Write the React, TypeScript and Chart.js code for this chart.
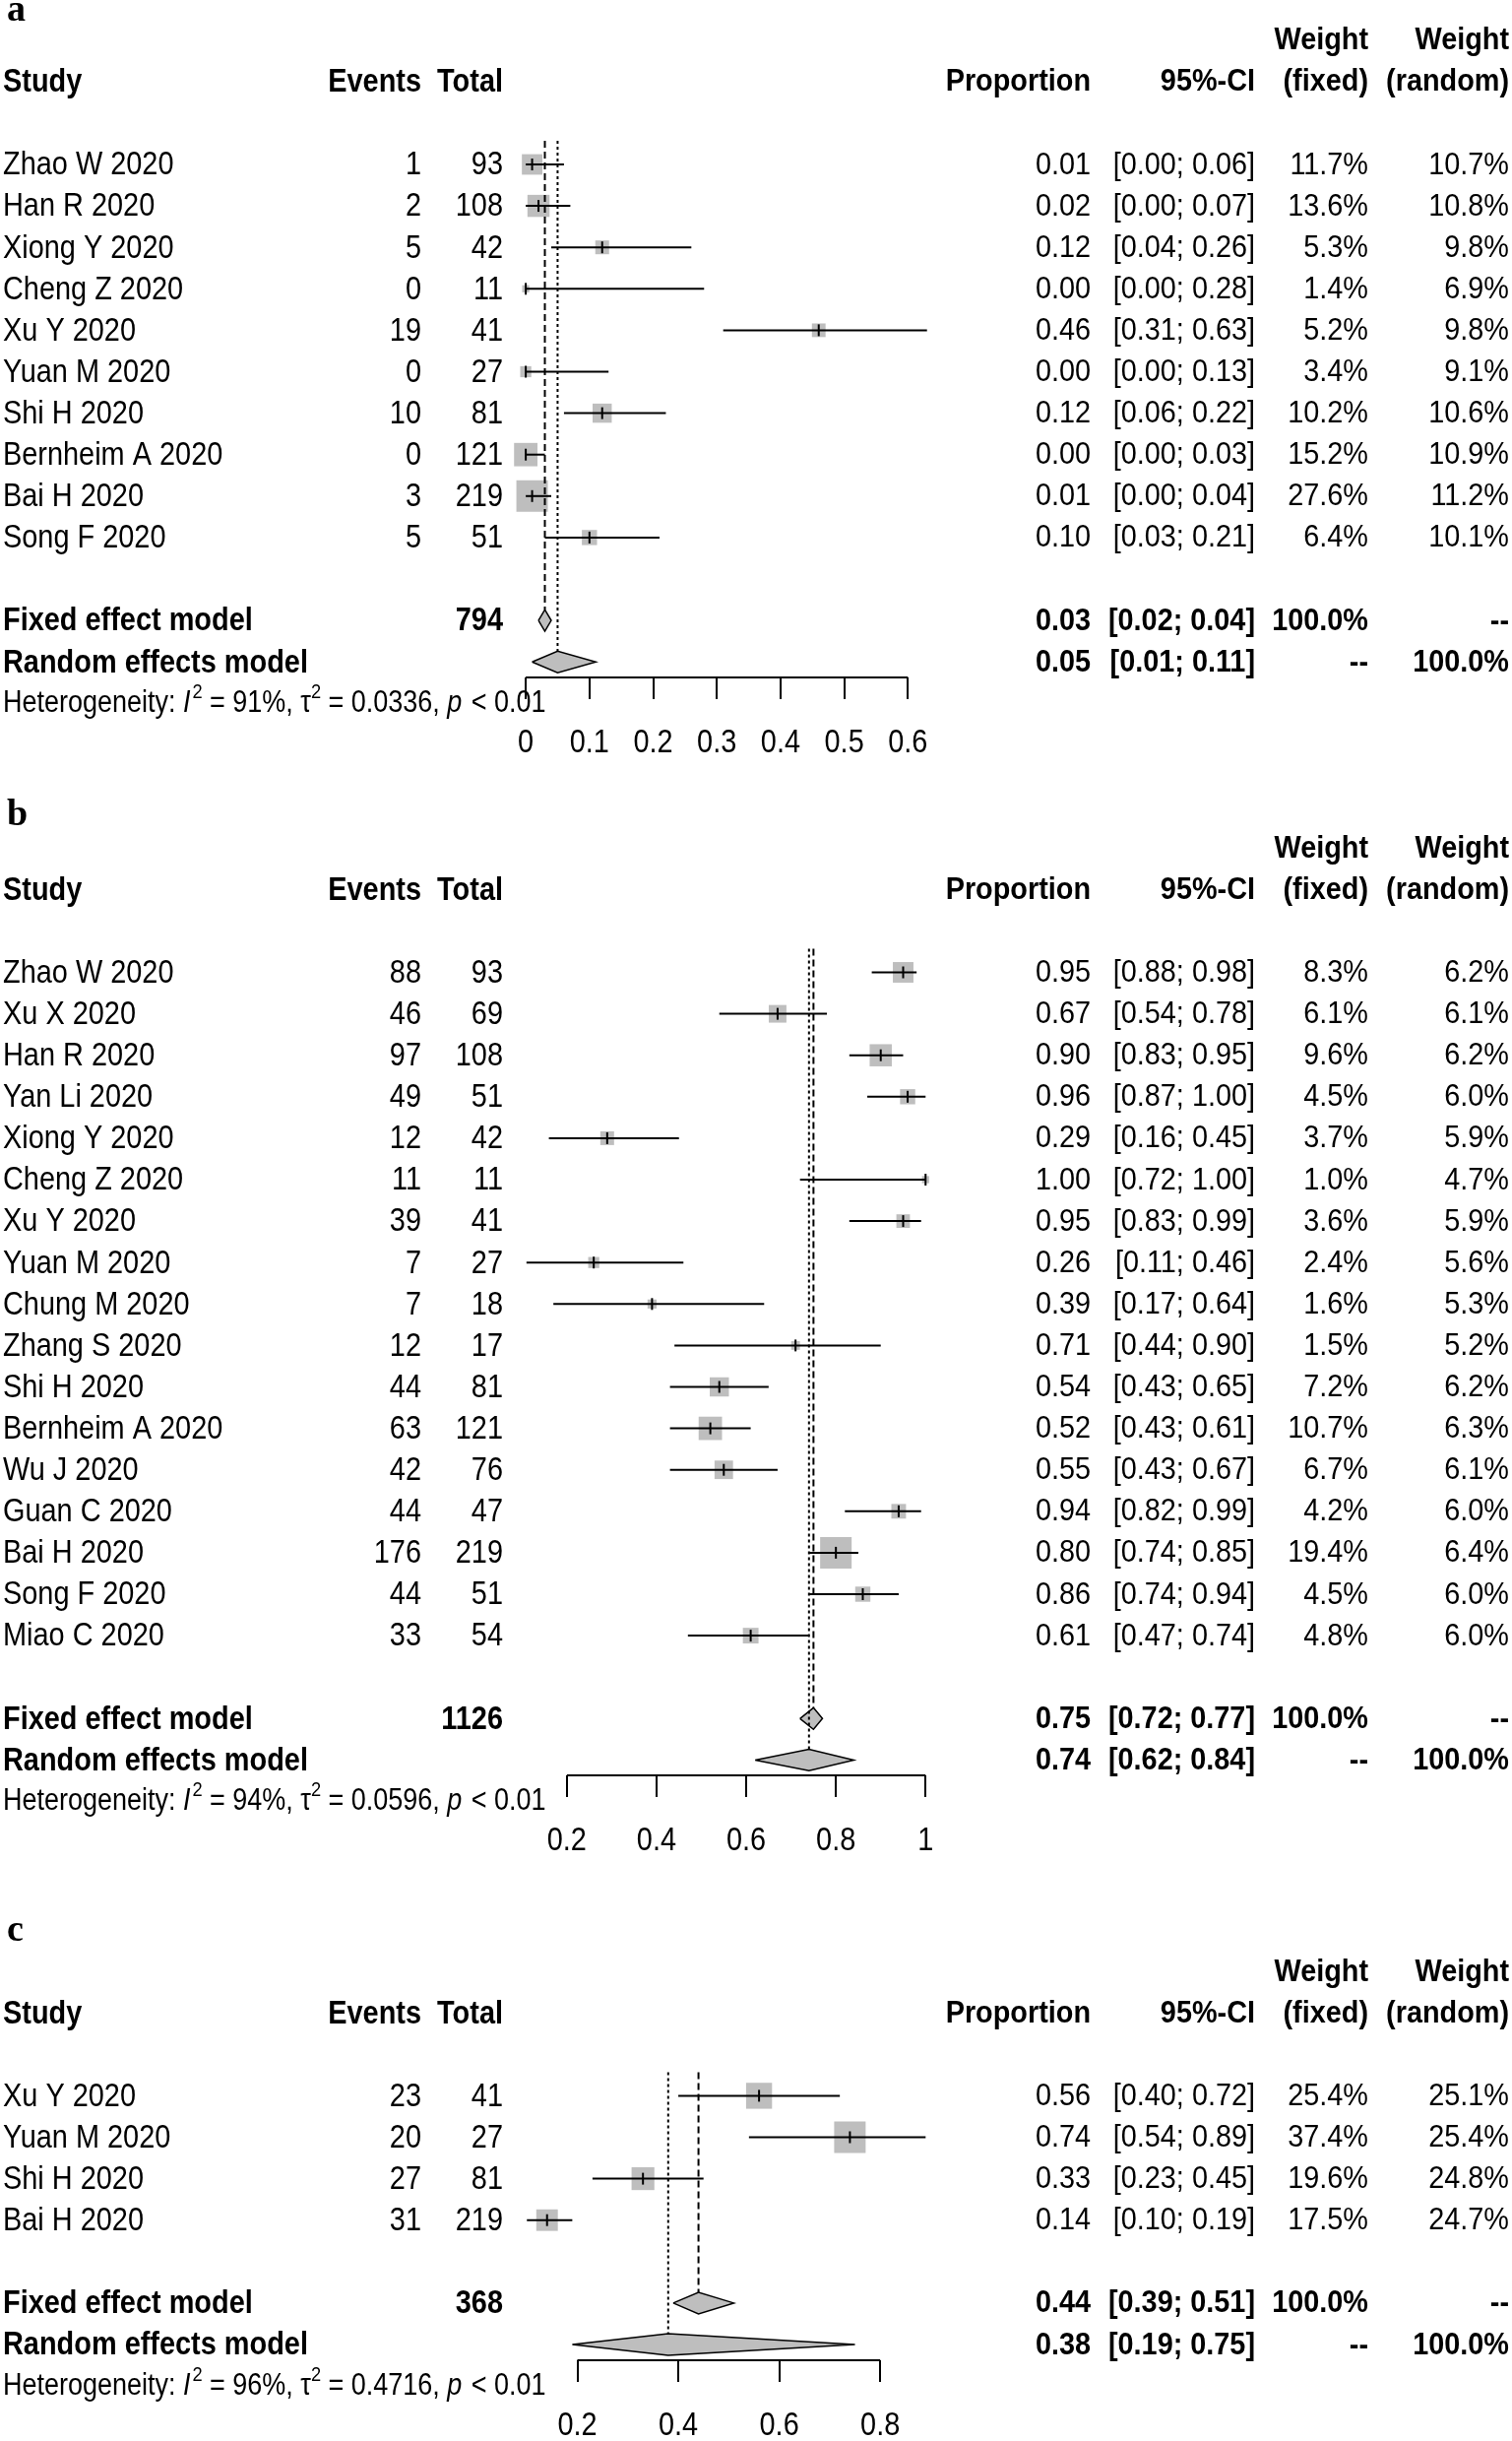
import React, { useEffect, useRef } from 'react';
import { Chart, registerables } from 'chart.js';

Chart.register(...registerables);

// ---------------- Panel a ----------------
const studiesA = ['Zhao W 2020', 'Han R 2020', 'Xiong Y 2020', 'Cheng Z 2020', 'Xu Y 2020', 'Yuan M 2020', 'Shi H 2020', 'Bernheim A 2020', 'Bai H 2020', 'Song F 2020'];
const eventsA = [1, 2, 5, 0, 19, 0, 10, 0, 3, 5];
const totalsA = [93, 108, 42, 11, 41, 27, 81, 121, 219, 51];
const propA = [0.01, 0.02, 0.12, 0.0, 0.46, 0.0, 0.12, 0.0, 0.01, 0.1];
const lowerA = [0.0, 0.0, 0.04, 0.0, 0.31, 0.0, 0.06, 0.0, 0.0, 0.03];
const upperA = [0.06, 0.07, 0.26, 0.28, 0.63, 0.13, 0.22, 0.03, 0.04, 0.21];
const weightFixedA = [11.7, 13.6, 5.3, 1.4, 5.2, 3.4, 10.2, 15.2, 27.6, 6.4];
const weightRandomA = [10.7, 10.8, 9.8, 6.9, 9.8, 9.1, 10.6, 10.9, 11.2, 10.1];
const totalFixedA = 794;
const fixedA = [0.03, 0.02, 0.04];
const randomA = [0.05, 0.01, 0.11];
const hetA = ['91%', '0.0336', '< 0.01'];
const ticksA = [0, 0.1, 0.2, 0.3, 0.4, 0.5, 0.6];
const tickLabelsA = ['0', '0.1', '0.2', '0.3', '0.4', '0.5', '0.6'];

// ---------------- Panel b ----------------
const studiesB = ['Zhao W 2020', 'Xu X 2020', 'Han R 2020', 'Yan Li 2020', 'Xiong Y 2020', 'Cheng Z 2020', 'Xu Y 2020', 'Yuan M 2020', 'Chung M 2020', 'Zhang S 2020', 'Shi H 2020', 'Bernheim A 2020', 'Wu J 2020', 'Guan C 2020', 'Bai H 2020', 'Song F 2020', 'Miao C 2020'];
const eventsB = [88, 46, 97, 49, 12, 11, 39, 7, 7, 12, 44, 63, 42, 44, 176, 44, 33];
const totalsB = [93, 69, 108, 51, 42, 11, 41, 27, 18, 17, 81, 121, 76, 47, 219, 51, 54];
const propB = [0.95, 0.67, 0.9, 0.96, 0.29, 1.0, 0.95, 0.26, 0.39, 0.71, 0.54, 0.52, 0.55, 0.94, 0.8, 0.86, 0.61];
const lowerB = [0.88, 0.54, 0.83, 0.87, 0.16, 0.72, 0.83, 0.11, 0.17, 0.44, 0.43, 0.43, 0.43, 0.82, 0.74, 0.74, 0.47];
const upperB = [0.98, 0.78, 0.95, 1.0, 0.45, 1.0, 0.99, 0.46, 0.64, 0.9, 0.65, 0.61, 0.67, 0.99, 0.85, 0.94, 0.74];
const weightFixedB = [8.3, 6.1, 9.6, 4.5, 3.7, 1.0, 3.6, 2.4, 1.6, 1.5, 7.2, 10.7, 6.7, 4.2, 19.4, 4.5, 4.8];
const weightRandomB = [6.2, 6.1, 6.2, 6.0, 5.9, 4.7, 5.9, 5.6, 5.3, 5.2, 6.2, 6.3, 6.1, 6.0, 6.4, 6.0, 6.0];
const totalFixedB = 1126;
const fixedB = [0.75, 0.72, 0.77];
const randomB = [0.74, 0.62, 0.84];
const hetB = ['94%', '0.0596', '< 0.01'];
const ticksB = [0.2, 0.4, 0.6, 0.8, 1];
const tickLabelsB = ['0.2', '0.4', '0.6', '0.8', '1'];

// ---------------- Panel c ----------------
const studiesC = ['Xu Y 2020', 'Yuan M 2020', 'Shi H 2020', 'Bai H 2020'];
const eventsC = [23, 20, 27, 31];
const totalsC = [41, 27, 81, 219];
const propC = [0.56, 0.74, 0.33, 0.14];
const lowerC = [0.4, 0.54, 0.23, 0.1];
const upperC = [0.72, 0.89, 0.45, 0.19];
const weightFixedC = [25.4, 37.4, 19.6, 17.5];
const weightRandomC = [25.1, 25.4, 24.8, 24.7];
const totalFixedC = 368;
const fixedC = [0.44, 0.39, 0.51];
const randomC = [0.38, 0.19, 0.75];
const hetC = ['96%', '0.4716', '< 0.01'];
const ticksC = [0.2, 0.4, 0.6, 0.8];
const tickLabelsC = ['0.2', '0.4', '0.6', '0.8'];

// ---------------- Layout / style ----------------
const CANVAS_W = 1536;
const ROW = 42.1;
const BOX = 32;
const DH = 0.26;
const SANS = '"Liberation Sans", Arial, Helvetica, sans-serif';
const SERIF = '"Liberation Serif", "Times New Roman", serif';
const GRAY = '#bebebe';
const COLS = { study: 3, events: 428, total: 511, prop: 1108, ci: 1275, wf: 1390, wr: 1533 };
const LEFT_SIZE = 34;
const LEFT_SX = 0.85;
const RIGHT_SIZE = 31;
const RIGHT_SX = 0.93;

const layoutA = { top: 0, height: 800, row0: 167, axisY: 688, letterBase: 21 };
const layoutB = { top: 800, height: 1100, row0: 987.5, axisY: 1803, letterBase: 838 };
const layoutC = { top: 1900, height: 579, row0: 2128.4, axisY: 2397, letterBase: 1971 };
const axisPxA = [527, 927];
const axisPxB = [570, 945.5];
const axisPxC = [581, 898];

const panels: any[] = [
  { letter: 'a', studies: studiesA, events: eventsA, totals: totalsA, prop: propA, lower: lowerA, upper: upperA, wFixed: weightFixedA, wRandom: weightRandomA, totalFixed: totalFixedA, fixed: fixedA, random: randomA, het: hetA, ticks: ticksA, tickLabels: tickLabelsA, layout: layoutA, axisPx: axisPxA },
  { letter: 'b', studies: studiesB, events: eventsB, totals: totalsB, prop: propB, lower: lowerB, upper: upperB, wFixed: weightFixedB, wRandom: weightRandomB, totalFixed: totalFixedB, fixed: fixedB, random: randomB, het: hetB, ticks: ticksB, tickLabels: tickLabelsB, layout: layoutB, axisPx: axisPxB },
  { letter: 'c', studies: studiesC, events: eventsC, totals: totalsC, prop: propC, lower: lowerC, upper: upperC, wFixed: weightFixedC, wRandom: weightRandomC, totalFixed: totalFixedC, fixed: fixedC, random: randomC, het: hetC, ticks: ticksC, tickLabels: tickLabelsC, layout: layoutC, axisPx: axisPxC },
];

function drawText(ctx: any, s: string, x: number, y: number, align: string, font: string, sx: number, baseline = 'middle') {
  ctx.save();
  ctx.font = font;
  ctx.fillStyle = '#000';
  ctx.textAlign = align;
  ctx.textBaseline = baseline;
  ctx.translate(x, y);
  ctx.scale(sx, 1);
  ctx.fillText(s, 0, 0);
  ctx.restore();
}

const fmt2 = (v: number) => v.toFixed(2);
const ci = (lo: number, hi: number) => `[${fmt2(lo)}; ${fmt2(hi)}]`;
const pct = (v: number) => `${v.toFixed(1)}%`;

function textPlugin(p: any) {
  return {
    id: 'forestText_' + p.letter,
    afterDraw(chart: any) {
      const ctx = chart.ctx;
      const ys = chart.scales.y;
      const xs = chart.scales.x;
      const Y = (r: number) => ys.getPixelForValue(r) + 1;
      const n = p.studies.length;
      const L = p.layout;
      const LN = `${LEFT_SIZE}px ${SANS}`;
      const LB = `bold ${LEFT_SIZE}px ${SANS}`;
      const RN = `${RIGHT_SIZE}px ${SANS}`;
      const RB = `bold ${RIGHT_SIZE}px ${SANS}`;

      // panel letter
      drawText(ctx, p.letter, 7, L.letterBase - L.top, 'left', `bold 38px ${SERIF}`, 1, 'alphabetic');

      // headers
      drawText(ctx, 'Weight', COLS.wf, Y(-3), 'right', RB, RIGHT_SX);
      drawText(ctx, 'Weight', COLS.wr, Y(-3), 'right', RB, RIGHT_SX);
      drawText(ctx, 'Study', COLS.study, Y(-2), 'left', LB, LEFT_SX);
      drawText(ctx, 'Events', COLS.events, Y(-2), 'right', LB, LEFT_SX);
      drawText(ctx, 'Total', COLS.total, Y(-2), 'right', LB, LEFT_SX);
      drawText(ctx, 'Proportion', COLS.prop, Y(-2), 'right', RB, RIGHT_SX);
      drawText(ctx, '95%-CI', COLS.ci, Y(-2), 'right', RB, RIGHT_SX);
      drawText(ctx, '(fixed)', COLS.wf, Y(-2), 'right', RB, RIGHT_SX);
      drawText(ctx, '(random)', COLS.wr, Y(-2), 'right', RB, RIGHT_SX);

      // study rows
      for (let i = 0; i < n; i++) {
        const y = Y(i);
        drawText(ctx, p.studies[i], COLS.study, y, 'left', LN, LEFT_SX);
        drawText(ctx, String(p.events[i]), COLS.events, y, 'right', LN, LEFT_SX);
        drawText(ctx, String(p.totals[i]), COLS.total, y, 'right', LN, LEFT_SX);
        drawText(ctx, fmt2(p.prop[i]), COLS.prop, y, 'right', RN, RIGHT_SX);
        drawText(ctx, ci(p.lower[i], p.upper[i]), COLS.ci, y, 'right', RN, RIGHT_SX);
        drawText(ctx, pct(p.wFixed[i]), COLS.wf, y, 'right', RN, RIGHT_SX);
        drawText(ctx, pct(p.wRandom[i]), COLS.wr, y, 'right', RN, RIGHT_SX);
      }

      // model rows
      const yf = Y(n + 1);
      drawText(ctx, 'Fixed effect model', COLS.study, yf, 'left', LB, LEFT_SX);
      drawText(ctx, String(p.totalFixed), COLS.total, yf, 'right', LB, LEFT_SX);
      drawText(ctx, fmt2(p.fixed[0]), COLS.prop, yf, 'right', RB, RIGHT_SX);
      drawText(ctx, ci(p.fixed[1], p.fixed[2]), COLS.ci, yf, 'right', RB, RIGHT_SX);
      drawText(ctx, '100.0%', COLS.wf, yf, 'right', RB, RIGHT_SX);
      drawText(ctx, '--', COLS.wr, yf, 'right', RB, RIGHT_SX);
      const yr = Y(n + 2);
      drawText(ctx, 'Random effects model', COLS.study, yr, 'left', LB, LEFT_SX);
      drawText(ctx, fmt2(p.random[0]), COLS.prop, yr, 'right', RB, RIGHT_SX);
      drawText(ctx, ci(p.random[1], p.random[2]), COLS.ci, yr, 'right', RB, RIGHT_SX);
      drawText(ctx, '--', COLS.wf, yr, 'right', RB, RIGHT_SX);
      drawText(ctx, '100.0%', COLS.wr, yr, 'right', RB, RIGHT_SX);

      // heterogeneity
      const HS = 31;
      const HSX = 0.87;
      const segs: any[] = [
        ['Heterogeneity: ', 'n'], ['I', 'i'], ['2', 's'], [` = ${p.het[0]}, `, 'n'], ['\u03c4', 'n'], ['2', 's'],
        [` = ${p.het[1]}, `, 'n'], ['p', 'i'], [` ${p.het[2]}`, 'n'],
      ];
      let cx = COLS.study;
      const axisY = L.axisY - L.top;
      const hy = axisY + 26;
      for (const [s, k] of segs) {
        const font = k === 'i' ? `italic ${HS}px ${SANS}` : k === 's' ? `${Math.round(HS * 0.68)}px ${SANS}` : `${HS}px ${SANS}`;
        const dy = k === 's' ? -11 : 0;
        drawText(ctx, s, cx, hy + dy, 'left', font, HSX);
        ctx.save();
        ctx.font = font;
        cx += ctx.measureText(s).width * HSX + (k === 'i' ? 2 : 0);
        ctx.restore();
      }

      // tick labels
      p.ticks.forEach((v: number, i: number) => {
        drawText(ctx, p.tickLabels[i], xs.getPixelForValue(v), axisY + 67, 'center', `${LEFT_SIZE}px ${SANS}`, 0.85);
      });
    },
  };
}

function buildConfig(p: any) {
  const n = p.studies.length;
  const L = p.layout;
  const fixedRow = n + 1;
  const randomRow = n + 2;
  const axisRow = (L.axisY - L.row0) / ROW;
  const yMin = -0.6;
  const absY = (r: number) => L.row0 + r * ROW;
  const t0 = p.ticks[0];
  const t1 = p.ticks[p.ticks.length - 1];
  const k = (p.axisPx[1] - p.axisPx[0]) / (t1 - t0);
  const xMin = t0 - p.axisPx[0] / k;
  const xMax = t0 + (CANVAS_W - p.axisPx[0]) / k;
  const maxW = Math.max(...p.wFixed);
  const pts = p.prop.map((v: number, i: number) => ({ x: v, y: i }));

  const datasets: any[] = [];
  // squares (area proportional to fixed-effect weight)
  datasets.push({
    data: pts,
    showLine: false,
    pointStyle: 'rect',
    pointRadius: p.wFixed.map((w: number) => (BOX * Math.sqrt(w / maxW)) / Math.SQRT2),
    pointBackgroundColor: GRAY,
    pointBorderWidth: 0,
    clip: false,
    order: 6,
  });
  // confidence intervals
  p.lower.forEach((lo: number, i: number) => {
    datasets.push({
      data: [{ x: lo, y: i }, { x: p.upper[i], y: i }],
      showLine: true,
      borderColor: '#000',
      borderWidth: 2,
      pointRadius: 0,
      clip: false,
      order: 2,
    });
  });
  // point estimate ticks
  datasets.push({
    data: pts,
    showLine: false,
    pointStyle: 'line',
    pointRotation: 90,
    pointRadius: 6,
    pointBorderWidth: 2,
    pointBorderColor: '#000',
    pointBackgroundColor: '#000',
    clip: false,
    order: 1,
  });
  // diamonds
  const diamond = (m: number[], r: number) => [
    { x: m[1], y: r }, { x: m[0], y: r - DH }, { x: m[2], y: r }, { x: m[0], y: r + DH }, { x: m[1], y: r },
  ];
  [[p.fixed, fixedRow], [p.random, randomRow]].forEach(([m, r]: any) => {
    datasets.push({
      data: diamond(m, r),
      showLine: true,
      fill: 'shape',
      backgroundColor: GRAY,
      borderColor: '#000',
      borderWidth: 1.5,
      pointRadius: 0,
      tension: 0,
      clip: false,
      order: 5,
    });
  });
  // reference lines (fixed dashed, random dotted)
  datasets.push({
    data: [{ x: p.fixed[0], y: -0.57 }, { x: p.fixed[0], y: fixedRow - DH }],
    showLine: true,
    borderColor: '#000',
    borderWidth: 2,
    borderDash: [7, 4],
    pointRadius: 0,
    clip: false,
    order: 3,
  });
  datasets.push({
    data: [{ x: p.random[0], y: -0.57 }, { x: p.random[0], y: randomRow - DH }],
    showLine: true,
    borderColor: '#000',
    borderWidth: 2,
    borderDash: [3, 3],
    pointRadius: 0,
    clip: false,
    order: 3,
  });
  // axis baseline between first and last tick
  datasets.push({
    data: [{ x: t0, y: axisRow }, { x: t1, y: axisRow }],
    showLine: true,
    borderColor: '#000',
    borderWidth: 2,
    pointRadius: 0,
    clip: false,
    order: 4,
  });

  return {
    type: 'scatter',
    data: { datasets },
    options: {
      responsive: false,
      maintainAspectRatio: false,
      animation: false,
      events: [],
      layout: { padding: { left: 0, right: 0, top: absY(yMin) - L.top, bottom: 0 } },
      plugins: { legend: { display: false }, tooltip: { enabled: false } },
      scales: {
        x: {
          type: 'linear',
          position: 'bottom',
          bounds: 'data',
          min: xMin,
          max: xMax,
          afterBuildTicks: (s: any) => {
            s.ticks = p.ticks.map((v: number) => ({ value: v }));
          },
          afterFit: (s: any) => {
            s.height = L.height - (L.axisY - L.top);
          },
          grid: {
            display: true,
            drawOnChartArea: false,
            drawTicks: true,
            tickLength: 22,
            color: '#000',
            lineWidth: 2,
            tickColor: '#000',
            tickWidth: 2,
          },
          border: { display: false },
          ticks: { display: false },
        },
        y: {
          type: 'linear',
          display: false,
          bounds: 'data',
          reverse: true,
          min: yMin,
          max: axisRow,
        },
      },
    },
    plugins: [textPlugin(p)],
  };
}

function ForestPanel({ p }: { p: any }) {
  const ref = useRef<HTMLCanvasElement>(null);
  useEffect(() => {
    const chart = new Chart(ref.current as any, buildConfig(p) as any);
    return () => chart.destroy();
  }, [p]);
  return (
    <canvas
      ref={ref}
      width={CANVAS_W}
      height={p.layout.height}
      style={{ position: 'absolute', left: 0, top: p.layout.top, width: CANVAS_W, height: p.layout.height }}
    />
  );
}

export default function App() {
  useEffect(() => {
    document.body.style.margin = '0';
  }, []);
  return (
    <div style={{ position: 'relative', width: CANVAS_W, height: 2479, background: '#fff', overflow: 'hidden' }}>
      {panels.map((p) => (
        <ForestPanel key={p.letter} p={p} />
      ))}
    </div>
  );
}
